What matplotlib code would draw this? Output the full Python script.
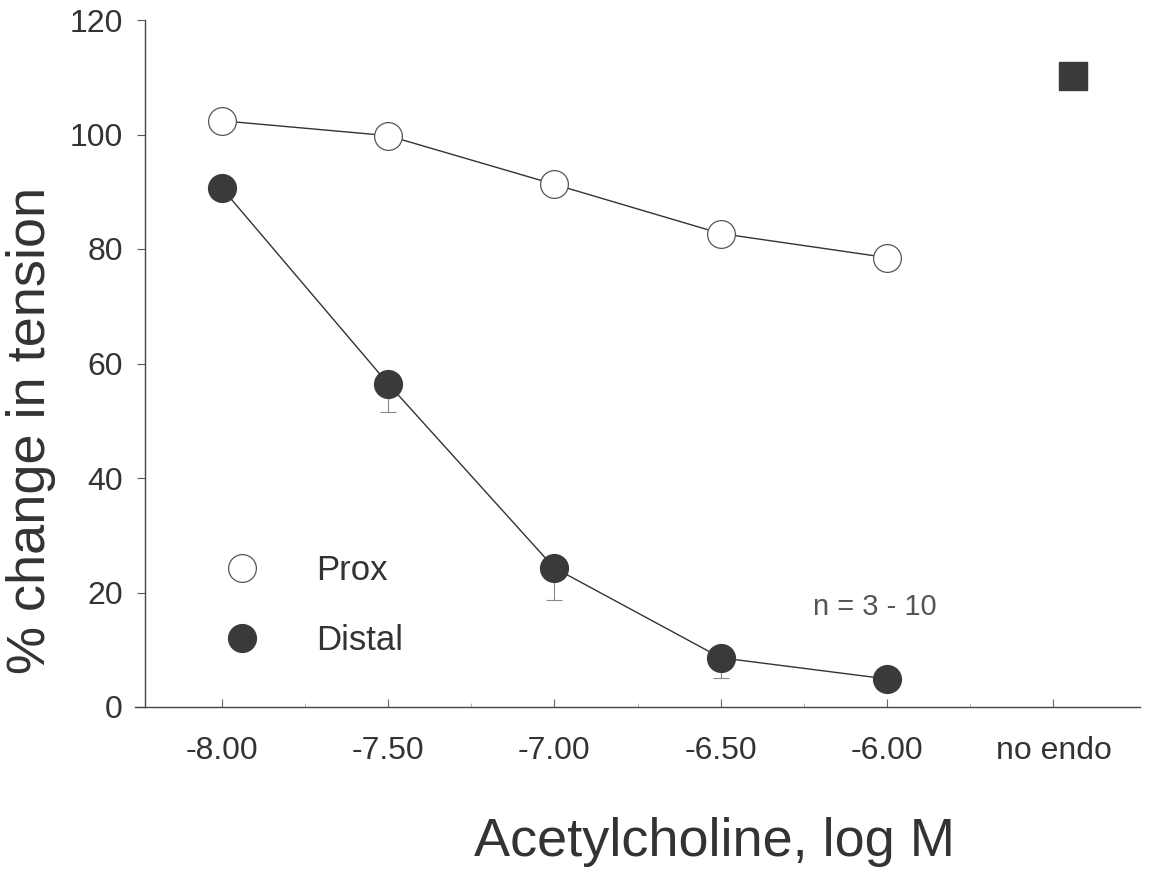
import matplotlib
matplotlib.use('Agg')
import matplotlib.pyplot as plt
from matplotlib.lines import Line2D
import numpy as np

plt.rcParams['font.family'] = ['Liberation Sans', 'DejaVu Sans']

# data
conc = [-8.0, -7.5, -7.0, -6.5, -6.0]
prox = [102.4, 99.8, 91.3, 82.7, 78.5]
distal = [90.7, 56.5, 24.3, 8.6, 4.9]
distal_err = [0.0, 5.0, 5.6, 3.5, 0.0]
no_endo_x = -5.44
no_endo_y = 110.3
xtick_pos = [-8.0, -7.5, -7.0, -6.5, -6.0, -5.5]
xtick_labels = ['-8.00', '-7.50', '-7.00', '-6.50', '-6.00', 'no endo']
ytick_pos = [0, 20, 40, 60, 80, 100, 120]

ink = '#333333'
fill = '#3a3a3a'
fig = plt.figure(figsize=(11.6, 8.73), dpi=100)
ax = fig.add_axes([135 / 1160, 166 / 873, 1005 / 1160, 687 / 873])

ax.errorbar(conc, distal, yerr=[distal_err, [0] * 5], fmt='none',
            ecolor='#888888', elinewidth=0.8, capsize=6, capthick=0.8, zorder=1)
ax.plot(conc, prox, '-o', color=ink, lw=1.0, ms=20, mfc='white', mec='#555555',
        mew=0.9, zorder=3)
ax.plot(conc, distal, '-o', color=ink, lw=1.0, ms=20, mfc=fill, mec=fill, zorder=3)
ax.plot([no_endo_x], [no_endo_y], 's', ms=20, color=fill)

ax.set_xlim(-8.26, -5.24)
ax.set_ylim(0, 120)
for s in ['top', 'right']:
    ax.spines[s].set_visible(False)
for s in ['left', 'bottom']:
    ax.spines[s].set_color('#444444')
    ax.spines[s].set_linewidth(1.0)
ax.spines['left'].set_position(('data', -8.23))

ax.set_xticks(xtick_pos)
ax.set_xticklabels(xtick_labels)
ax.set_xticks(np.arange(-7.75, -5.5, 0.5), minor=True)
ax.tick_params(axis='x', which='major', direction='in', length=6, width=0.8,
               colors='#666666', labelcolor=ink, labelsize=23, pad=21)
ax.tick_params(axis='x', which='minor', direction='in', length=3, width=0.6,
               colors='#aaaaaa')
ax.set_yticks(ytick_pos)
ax.tick_params(axis='y', direction='out', length=6, width=0.8,
               colors='#555555', labelcolor=ink, labelsize=23, pad=10)

ax.set_xlabel('Acetylcholine, log M', fontsize=39, color=ink)
ax.xaxis.set_label_coords(0.577, -0.16)
ax.set_ylabel('% change in tension', fontsize=39, color=ink)
ax.yaxis.set_label_coords(-0.079, 0.403)

ax.text(-6.224, 16.0, 'n = 3 - 10', fontsize=21, color='#555555', va='baseline')

handles = [
    Line2D([], [], ls='none', marker='o', ms=20, mfc='white', mec='#555555', mew=0.9),
    Line2D([], [], ls='none', marker='o', ms=20, mfc=fill, mec=fill),
]
ax.legend(handles, ['Prox', 'Distal'], loc='upper left',
          bbox_to_anchor=(0.0856, 0.222), frameon=False, borderpad=0,
          borderaxespad=0, fontsize=25, handlelength=1.2, handletextpad=1.53,
          labelspacing=1.05, labelcolor=ink)

fig.savefig('out.png', dpi=100)
